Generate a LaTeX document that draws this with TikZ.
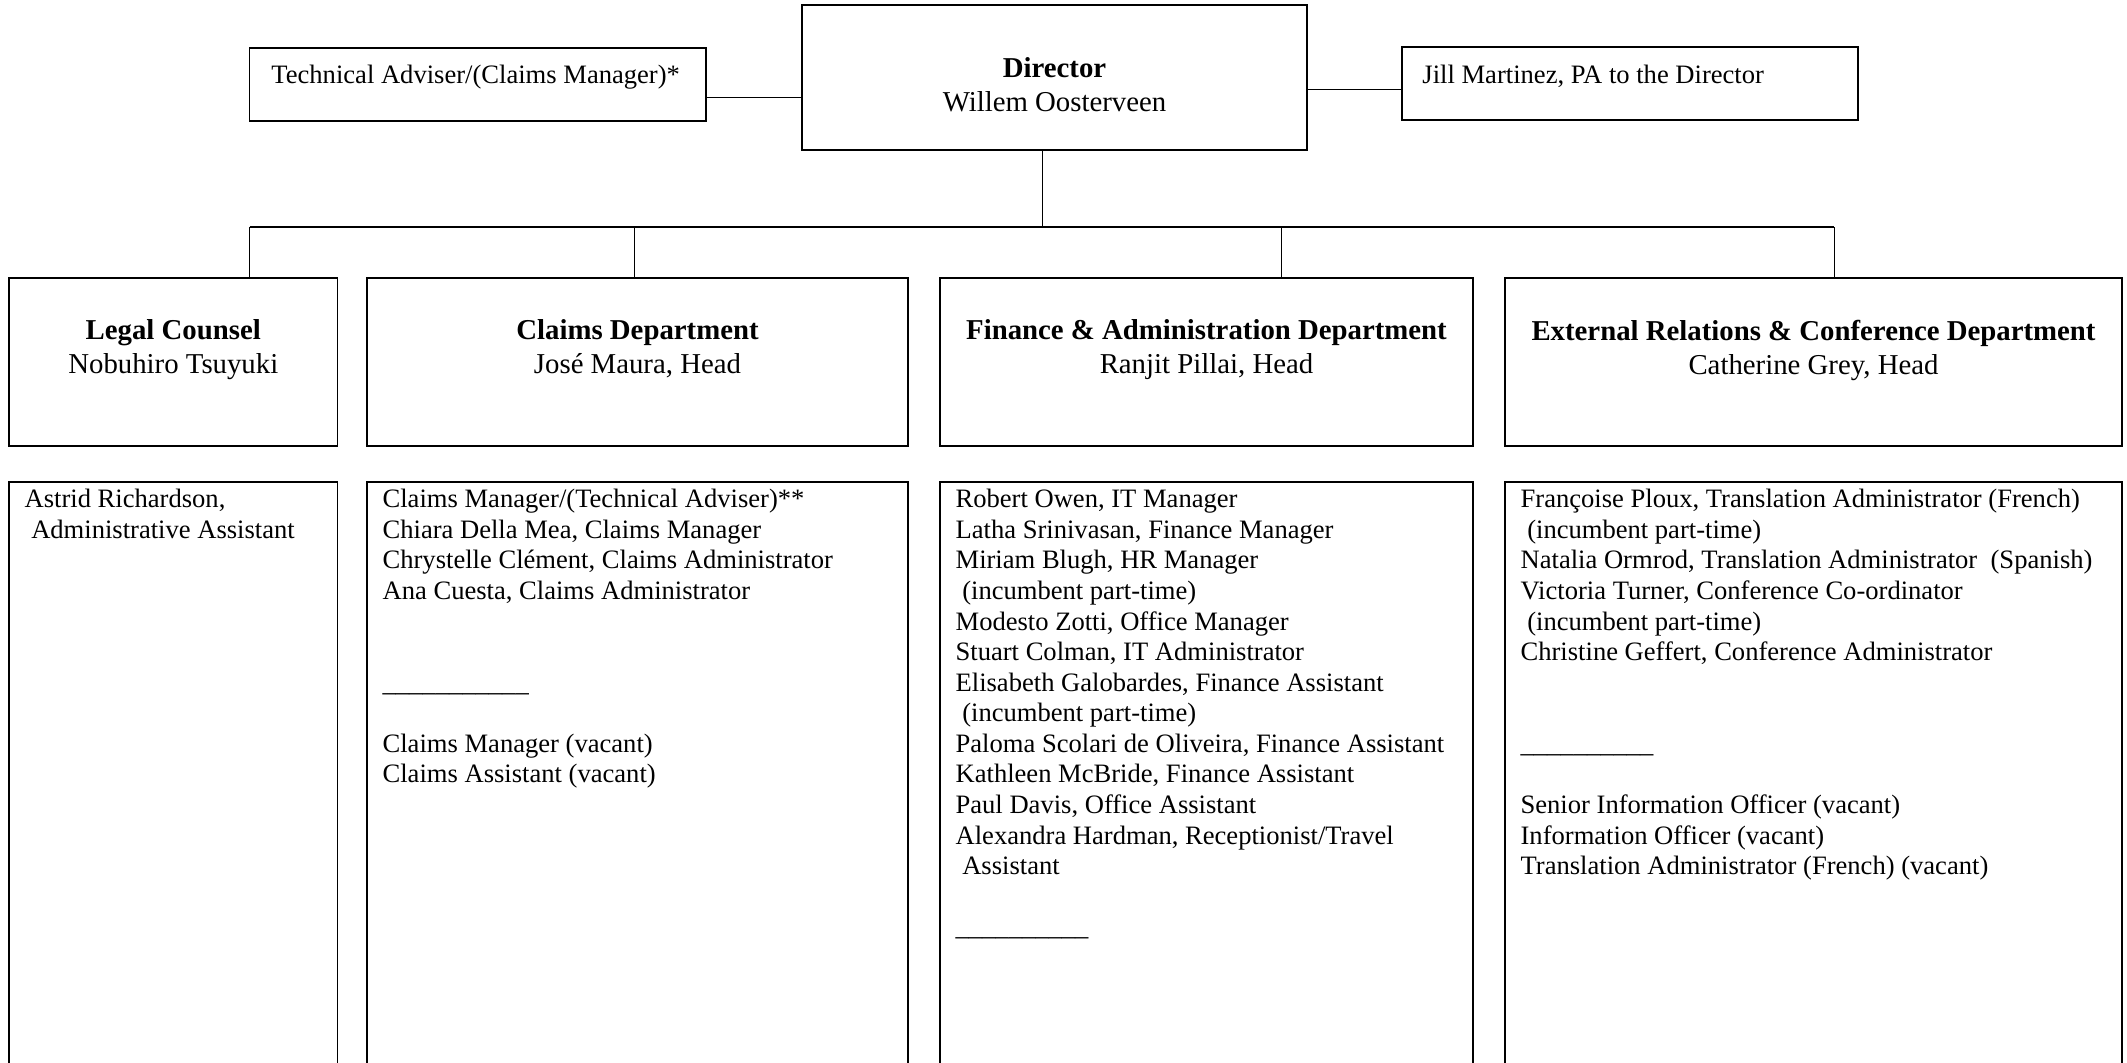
\documentclass[tikz,border=0pt]{standalone}
\usepackage{fontspec}
\setmainfont{Liberation Serif}
\usetikzlibrary{positioning}

\newcommand{\indsp}{\hspace*{3pt}}

\begin{document}
\begin{tikzpicture}[x=0.4515pt, y=-0.4515pt, font=\fontsize{12}{13.8}\selectfont]

    % Styles for boxes, connectors and text
    \tikzset{
      box/.style={draw, line width=0.7pt, inner sep=0pt},
      sz/.style 2 args={minimum width=#1*\pxu*1pt, minimum height=#2*\pxu*1pt},
      conn/.style={line width=0.45pt},
      head/.style={align=center, inner sep=0pt, font=\fontsize{13}{15.35}\selectfont},
      lst/.style={align=left, inner sep=0pt},
      lbl/.style={inner sep=0pt, anchor=base west}
    }

    % One pixel of the page, for node sizes
    \def\pxu{0.4515}
    \def\ydept{362}   % centre of the department row
    \def\ybar{227}    % horizontal bar under the director
    \def\ylist{481}   % top of the staff lists

    \useasboundingbox (0,0) rectangle (2127,1063);
    \clip (0,0) rectangle (2127,1063);

    % --- Top row ---
    \node[box, sz={456.5}{73}] (tech) at (477.75,84.5) {};
    \node[box, sz={505}{145}] (dir) at (1054.5,77.5) {};
    \node[box, sz={456}{73}] (pa) at (1630,83.5) {};

    \node[lbl] (techtxt) at (271,83) {Technical Adviser/(Claims Manager)*};
    \node[lbl] (patxt) at (1422,83) {Jill Martinez, PA to the Director};
    \node[head, below=23.7pt of dir.north] (dirtxt) {\textbf{Director}\\Willem Oosterveen};

    \draw[conn] (tech.east |- 0,97) -- (dir.west |- 0,97);
    \draw[conn] (dir.east |- 0,89) -- (pa.west |- 0,89);

    % --- Department row ---
    \node[box, sz={328.6}{168}] (legal) at (173.3,\ydept) {};
    \node[box, sz={541}{168}] (claims) at (637.5,\ydept) {};
    \node[box, sz={533}{168}] (fin) at (1206.5,\ydept) {};
    \node[box, sz={617}{168}] (ext) at (1813.5,\ydept) {};

    \node[head, below=19.1pt of legal.north] (legaltxt) {\textbf{Legal Counsel}\\Nobuhiro Tsuyuki};
    \node[head, below=19.1pt of claims.north] (claimstxt) {\textbf{Claims Department}\\José Maura, Head};
    \node[head, below=19.1pt of fin.north] (fintxt) {\textbf{Finance \& Administration Department}\\Ranjit Pillai, Head};
    \node[head, below=19.1pt of ext.north] (exttxt) {\textbf{External Relations \& Conference Department}\\Catherine Grey, Head};

    % Bar from the director to the departments
    \coordinate (hub) at (1042,\ybar);
    \coordinate (dlegal) at (249.5,\ybar);
    \coordinate (dclaims) at (634,\ybar);
    \coordinate (dfin) at (1281,\ybar);
    \coordinate (dext) at (1834,\ybar);

    \draw[conn] (dir.south -| hub) -- (hub);
    \draw[line width=0.7pt] (dlegal) -- (dext);
    \draw[conn] (dlegal) -- (dlegal |- legal.north);
    \draw[conn] (dclaims) -- (dclaims |- claims.north);
    \draw[conn] (dfin) -- (dfin |- fin.north);
    \draw[conn] (dext) -- (dext |- ext.north);

    % --- Staff lists (running off the bottom of the page) ---
    \node[box, sz={328.6}{640}, anchor=north] (legallst) at (legal.south |- 0,\ylist) {};
    \node[box, sz={541}{640}, anchor=north] (claimslst) at (claims.south |- 0,\ylist) {};
    \node[box, sz={533}{640}, anchor=north] (finlst) at (fin.south |- 0,\ylist) {};
    \node[box, sz={617}{640}, anchor=north] (extlst) at (ext.south |- 0,\ylist) {};

    \node[lst, below right=3.6pt and 7.2pt of legallst.north west] (legalitems)
      {Astrid Richardson,\\
       \indsp Administrative Assistant};

    \node[lst, below right=3.6pt and 7.2pt of claimslst.north west] (claimsitems)
      {Claims Manager/(Technical Adviser)**\\
       Chiara Della Mea, Claims Manager\\
       Chrystelle Clément, Claims Administrator\\
       Ana Cuesta, Claims Administrator\\
       \mbox{}\\
       \mbox{}\\
       \_\_\_\_\_\_\_\_\_\_\_\\
       \mbox{}\\
       Claims Manager (vacant)\\
       Claims Assistant (vacant)};

    \node[lst, below right=3.6pt and 7.2pt of finlst.north west] (finitems)
      {Robert Owen, IT Manager\\
       Latha Srinivasan, Finance Manager\\
       Miriam Blugh, HR Manager\\
       \indsp(incumbent part-time)\\
       Modesto Zotti, Office Manager\\
       Stuart Colman, IT Administrator\\
       Elisabeth Galobardes, Finance Assistant\\
       \indsp(incumbent part-time)\\
       Paloma Scolari de Oliveira, Finance Assistant\\
       Kathleen McBride, Finance Assistant\\
       Paul Davis, Office Assistant\\
       Alexandra Hardman, Receptionist/Travel\\
       \indsp Assistant\\
       \mbox{}\\
       \_\_\_\_\_\_\_\_\_\_};

    \node[lst, below right=3.6pt and 7.2pt of extlst.north west] (extitems)
      {Françoise Ploux, Translation Administrator (French)\\
       \indsp(incumbent part-time)\\
       Natalia Ormrod, Translation Administrator\indsp\indsp (Spanish)\\
       Victoria Turner, Conference Co-ordinator\\
       \indsp(incumbent part-time)\\
       Christine Geffert, Conference Administrator\\
       \mbox{}\\
       \mbox{}\\
       \_\_\_\_\_\_\_\_\_\_\\
       \mbox{}\\
       Senior Information Officer (vacant)\\
       Information Officer (vacant)\\
       Translation Administrator (French) (vacant)};

\end{tikzpicture}
\end{document}
